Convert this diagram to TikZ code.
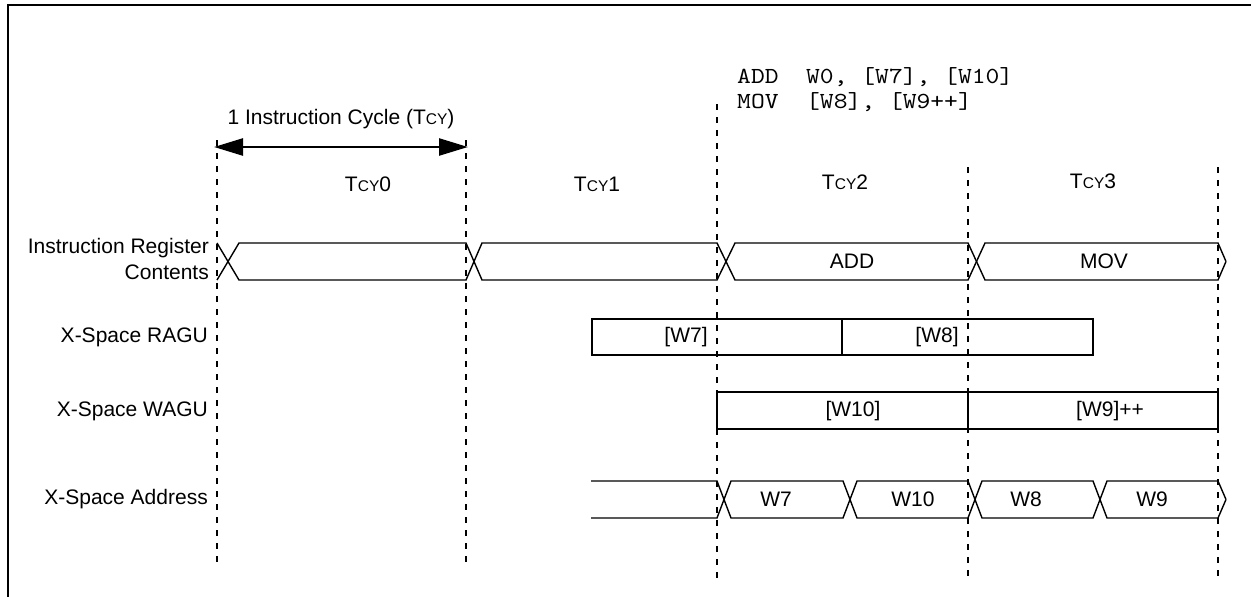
\documentclass[tikz,border=0pt]{standalone}
\usepackage{fontspec}
\setmainfont{Liberation Sans}
\newfontfamily\codefont{lmmono10-regular.otf}[FakeStretch=1.143]
\usetikzlibrary{arrows.meta}
\newcommand\tcyl[1]{T{\fontsize{15.5}{15.5}\selectfont CY}#1}
\begin{document}
\begin{tikzpicture}[x=1pt,y=-1pt,
  lbl/.style={font=\fontsize{21}{26}\selectfont, inner sep=0pt},
  code/.style={font=\codefont\fontsize{23}{25}\selectfont, inner sep=0pt, anchor=base west},
  cyc/.style={dash pattern=on 6pt off 7pt, line width=1.9pt},
  bus/.style={line width=1.4pt, line join=miter},
  box/.style={line width=2.4pt},
  frame/.style={line width=2.6pt}]
\useasboundingbox (0,0) rectangle (1251,597);
% frame
\draw[frame] (8,600) -- (8,5) -- (1255,5);
% code
\node[code] (c1) at (737,83) {ADD\ \ W0, [W7], [W10]};
\node[code] (c2) at (737,108) {MOV\ \ [W8], [W9++]};
% cycle boundaries
\coordinate (d0t) at (217,140); \coordinate (d0b) at (217,566);
\coordinate (d1t) at (466,140); \coordinate (d1b) at (466,566);
\coordinate (d2t) at (717,104); \coordinate (d2b) at (717,578);
\coordinate (d3t) at (968,167); \coordinate (d3b) at (968,578);
\coordinate (d4t) at (1218,167); \coordinate (d4b) at (1218,578);
\foreach \i in {0,...,4} \draw[cyc] (d\i t) -- (d\i b);
% instruction cycle arrow
\node[lbl, anchor=base] (ic) at (341,124) {1 Instruction Cycle (\tcyl{})};
\coordinate (al) at (214,147); \coordinate (ar) at (468,147);
\draw[line width=2.5pt, {Triangle[length=29pt,width=17pt]}-{Triangle[length=29pt,width=17pt]}] (al) -- (ar);
% cycle labels
\node[lbl] (t0) at (368,184) {\tcyl{0}};
\node[lbl] (t1) at (597,184) {\tcyl{1}};
\node[lbl] (t2) at (845,182) {\tcyl{2}};
\node[lbl] (t3) at (1093,181) {\tcyl{3}};
% row labels
\node[lbl, anchor=east, align=right] (lir) at (209,259) {Instruction Register\\Contents};
\node[lbl, anchor=east] (lr) at (208,337) {X-Space RAGU};
\node[lbl, anchor=east] (lw) at (208,411) {X-Space WAGU};
\node[lbl, anchor=east] (la) at (208,499) {X-Space Address};
% instruction register bus
\draw[bus] (217,243) -- (239,280) -- (466,280) -- (482,243) -- (717,243) -- (735,280) -- (968,280) -- (985,243) -- (1218,243) -- (1226,261.5);
\draw[bus] (217,280) -- (239,243) -- (466,243) -- (482,280) -- (717,280) -- (735,243) -- (968,243) -- (985,280) -- (1218,280) -- (1226,261.5);
\node[lbl] (add) at (852,261) {ADD};
\node[lbl] (mov) at (1104,261) {MOV};
% RAGU
\draw[box] (592,319) rectangle (1093,355);
\draw[box] (842,319) -- (842,355);
\node[lbl] (w7r) at (686,337) {[W7]};
\node[lbl] (w8r) at (937,337) {[W8]};
% WAGU
\draw[box] (717,392) rectangle (1218,429);
\draw[box] (968,392) -- (968,429);
\node[lbl] (w10w) at (853,411) {[W10]};
\node[lbl] (w9w) at (1110,411) {[W9]++};
% address bus
\draw[bus] (591,481) -- (717,481) -- (731,518) -- (843,518) -- (857,481) -- (968,481) -- (982,518) -- (1093,518) -- (1107,481) -- (1218,481) -- (1226,499.5);
\draw[bus] (591,518) -- (717,518) -- (731,481) -- (843,481) -- (857,518) -- (968,518) -- (982,481) -- (1093,481) -- (1107,518) -- (1218,518) -- (1226,499.5);
\node[lbl] (aw7) at (776,499) {W7};
\node[lbl] (aw10) at (913,499) {W10};
\node[lbl] (aw8) at (1026,499) {W8};
\node[lbl] (aw9) at (1152,499) {W9};
\end{tikzpicture}
\end{document}
